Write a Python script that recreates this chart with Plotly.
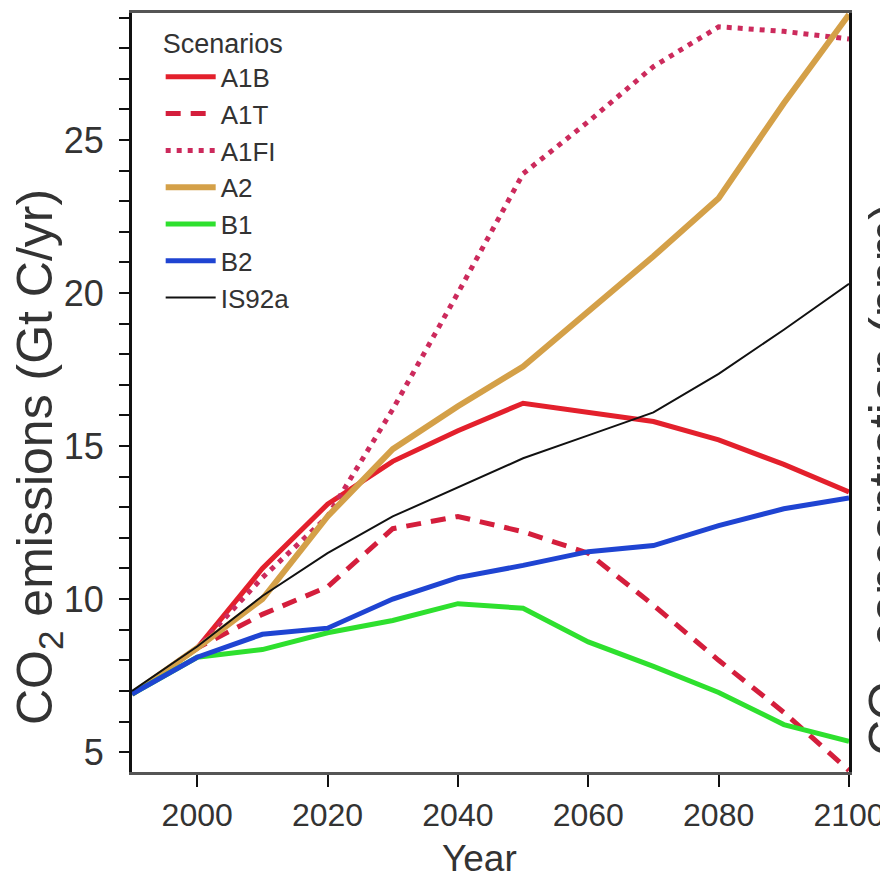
import plotly.graph_objects as go

years = [1990, 2000, 2010, 2020, 2030, 2040, 2050, 2060, 2070, 2080, 2090, 2100]
a1b = [6.9, 8.4, 11.0, 13.1, 14.5, 15.5, 16.4, 16.1, 15.8, 15.2, 14.4, 13.5]
a1t = [6.9, 8.4, 9.5, 10.4, 12.3, 12.7, 12.2, 11.5, 9.8, 8.0, 6.3, 4.4]
a1fi = [6.9, 8.4, 10.7, 12.7, 16.2, 20.0, 23.9, 25.6, 27.4, 28.7, 28.55, 28.3]
a2 = [6.9, 8.4, 10.0, 12.7, 14.9, 16.3, 17.6, 19.4, 21.2, 23.1, 26.2, 29.1]
b1 = [6.9, 8.1, 8.35, 8.9, 9.3, 9.85, 9.7, 8.6, 7.8, 6.95, 5.9, 5.35]
b2 = [6.9, 8.1, 8.85, 9.05, 10.0, 10.7, 11.1, 11.55, 11.75, 12.4, 12.95, 13.3]
is92a = [7.0, 8.45, 10.1, 11.5, 12.7, 13.65, 14.6, 15.35, 16.1, 17.36, 18.8, 20.3]

x_ticks = [2000, 2020, 2040, 2060, 2080, 2100]
y_ticks = [5, 10, 15, 20, 25]

FONT = "Liberation Sans, Arial, sans-serif"
TXT = "#333333"

series = [
    ("A1B", a1b, "#e3202c", "solid", 5),
    ("A1T", a1t, "#d41e3c", "15px,10px", 5),
    ("A1FI", a1fi, "#cc2a5c", "5px,6px", 5),
    ("A2", a2, "#d4a048", "solid", 6),
    ("B1", b1, "#2ee02e", "solid", 5),
    ("B2", b2, "#1f44d2", "solid", 5),
    ("IS92a", is92a, "#111111", "solid", 2),
]

fig = go.Figure()
for name, vals, color, dash, w in series:
    fig.add_trace(go.Scatter(
        x=years, y=vals, mode="lines", name=name,
        line=dict(color=color, width=w, dash=dash),
    ))

# figure is 880x872 so it fits the 888x880 window with the page's 8px body margin
L, T, PW, PH = 124, 5, 717, 759

fig.update_layout(
    width=880, height=872,
    margin=dict(l=L, r=880 - L - PW, t=T, b=872 - T - PH, autoexpand=False),
    paper_bgcolor="white", plot_bgcolor="white",
    font=dict(family=FONT, color=TXT),
    showlegend=True,
    legend=dict(
        x=0.04, y=0.993, xanchor="left", yanchor="top",
        bgcolor="rgba(255,255,255,0)",
        font=dict(size=26, family=FONT, color=TXT),
        title=dict(text="Scenarios", font=dict(size=27, family=FONT, color=TXT)),
        itemwidth=50,
        tracegroupgap=0,
    ),
    xaxis=dict(
        range=[1990, 2100], tickvals=x_ticks, automargin=False,
        ticks="outside", ticklen=12, tickwidth=2, tickcolor="#111111",
        showline=True, linecolor="#555555", linewidth=3, mirror=True,
        showgrid=False, zeroline=False,
        tickfont=dict(size=32, family=FONT, color=TXT),
        ticklabelstandoff=1,
    ),
    yaxis=dict(
        range=[4.35, 29.15], tickvals=y_ticks, automargin=False,
        ticks="outside", ticklen=10, tickwidth=2, tickcolor="#111111",
        minor=dict(dtick=1, ticks="outside", ticklen=10, tickwidth=2, tickcolor="#111111"),
        showline=True, linecolor="#111111", linewidth=3, mirror=True,
        showgrid=False, zeroline=False,
        tickfont=dict(size=36, family=FONT, color=TXT),
        ticklabelstandoff=8,
    ),
    annotations=[
        dict(text="Year",
             xref="paper", yref="paper", x=(471 - L) / PW, y=(T + PH - 850) / PH,
             xanchor="center", yanchor="middle",
             showarrow=False, font=dict(size=37, family=FONT, color=TXT)),
        dict(text="CO<sub>2</sub> emissions (Gt C/yr)", textangle=-90,
             xref="paper", yref="paper", x=(31 - L) / PW, y=(T + PH - 449) / PH,
             xanchor="center", yanchor="middle",
             showarrow=False, font=dict(size=50, family=FONT, color=TXT)),
        dict(text="CO<sub>2</sub> concentration (ppm)", textangle=-90,
             xref="paper", yref="paper", x=(883 - L) / PW, y=(T + PH - 472) / PH,
             xanchor="center", yanchor="middle",
             showarrow=False, font=dict(size=50, family=FONT, color=TXT)),
    ],
)

fig.write_html("out.html")
